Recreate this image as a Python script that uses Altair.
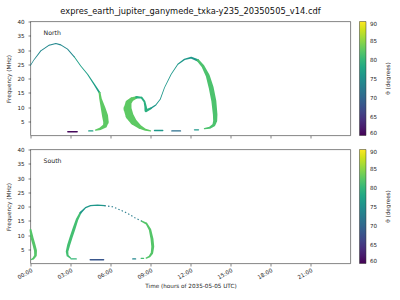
import altair as alt
import pandas as pd

TITLE = "expres_earth_jupiter_ganymede_txka-y235_20350505_v14.cdf"
hour_ticks = [0, 3, 6, 9, 12, 15, 18, 21]
freq_ticks = [5, 10, 15, 20, 25, 30, 35, 40]
theta_ticks = [60, 65, 70, 75, 80, 85, 90]

# (time [h], frequency [MHz], time spread of emission [h])
north_arc_a = [(0.00, 24.6, .06), (0.28, 26.7, .06), (0.77, 29.7, .07), (1.40, 31.7, .08),
               (1.90, 32.3, .08), (2.27, 31.8, .08), (2.78, 30.3, .07), (3.28, 27.6, .07)]
north_arc_b = [(3.28, 27.6, .07), (3.77, 24.4, .07), (4.28, 21.5, .08), (4.78, 17.9, .10),
               (5.18, 15.0, .14)]
north_arc_c = [(5.18, 15.0, .14), (5.25, 12.9, .19), (5.44, 9.7, .34), (5.59, 6.9, .45),
               (5.66, 4.8, .41), (5.59, 3.4, .30), (5.25, 2.4, .19), (4.88, 1.9, .10)]
north_lobe = [(9.00, 1.65, .10), (8.63, 2.0, .15), (8.18, 3.06, .30), (7.73, 4.82, .49),
              (7.43, 6.93, .60), (7.28, 9.39, .60), (7.35, 11.5, .45), (7.58, 12.7, .30),
              (7.95, 13.4, .19)]
north_notch = [(7.95, 13.4, .19), (8.33, 13.3, .14), (8.55, 11.9, .14), (8.63, 10.1, .18),
               (8.66, 8.7, .22), (9.02, 9.5, .14)]
north_rise = [(9.02, 9.5, .11), (9.40, 10.7, .08), (9.73, 12.7, .07), (10.05, 16.8, .06),
              (10.55, 21.5, .06), (11.05, 25.0, .07), (11.55, 26.7, .10), (12.05, 27.3, .14),
              (12.55, 26.4, .18)]
north_fall = [(12.55, 26.4, .18), (12.92, 24.4, .22), (13.30, 20.9, .30), (13.55, 16.8, .37),
              (13.75, 12.1, .37), (13.85, 7.4, .34), (13.85, 5.1, .30), (13.75, 3.7, .22),
              (13.43, 2.7, .15), (13.05, 2.4, .10)]
north_dash_1 = [(2.80, 1.3, .11), (3.50, 1.3, .11)]
north_dash_2 = [(4.37, 1.6, .10), (4.67, 1.6, .10)]
north_dash_3 = [(9.30, 1.75, .10), (9.92, 1.75, .10)]
north_dash_4 = [(10.60, 1.6, .10), (11.25, 1.6, .10)]
north_dash_5 = [(12.30, 2.0, .10), (12.60, 2.0, .10)]

south_edge = [(0.00, 11.8, .15), (0.11, 9.1, .22), (0.26, 6.6, .22), (0.375, 4.5, .22),
              (0.375, 2.8, .19), (0.22, 1.75, .15), (0.07, 1.4, .10)]
south_rise = [(3.00, 1.9, .10), (2.78, 2.8, .15), (2.74, 4.2, .19), (2.85, 6.3, .22),
              (3.04, 9.1, .22), (3.26, 12.2, .22), (3.49, 15.4, .19), (3.75, 17.8, .14)]
south_top = [(3.75, 17.8, .14), (4.13, 19.6, .10), (4.50, 20.3, .09), (5.03, 20.5, .09),
             (5.55, 20.3, .09)]
south_dotted = [(5.55, 20.3, .07), (6.15, 19.9, .07), (6.68, 18.9, .07), (7.28, 17.6, .07),
                (7.88, 15.9, .07), (8.33, 14.9, .07)]
south_fall = [(8.33, 14.9, .10), (8.70, 14.0, .14), (8.96, 11.9, .18), (9.11, 8.7, .22),
              (9.17, 5.9, .22), (9.11, 3.7, .18), (8.93, 2.45, .14), (8.68, 1.9, .10)]
south_dash_1 = [(3.05, 1.6, .10), (3.43, 1.6, .10)]
south_dash_2 = [(4.48, 1.3, .11), (5.48, 1.3, .11)]
south_dash_3 = [(7.67, 1.6, .10), (7.88, 1.6, .10)]
south_dash_4 = [(8.30, 1.8, .10), (8.48, 1.8, .10)]

# segment list: (panel, theta [deg], kind, points)
segments = [
    ("North", 74, "trail", north_arc_a), ("North", 77, "trail", north_arc_b),
    ("North", 82.5, "trail", north_arc_c), ("North", 82.5, "trail", north_lobe),
    ("North", 79, "trail", north_notch), ("North", 76, "trail", north_rise),
    ("North", 81.5, "trail", north_fall), ("North", 60.5, "trail", north_dash_1),
    ("North", 77, "trail", north_dash_2), ("North", 76, "trail", north_dash_3),
    ("North", 71, "trail", north_dash_4), ("North", 76, "trail", north_dash_5),
    ("South", 82, "trail", south_edge), ("South", 81, "trail", south_rise),
    ("South", 76, "trail", south_top), ("South", 72.5, "dotted", south_dotted),
    ("South", 82, "trail", south_fall), ("South", 80, "trail", south_dash_1),
    ("South", 68, "trail", south_dash_2), ("South", 74, "trail", south_dash_3),
    ("South", 81, "trail", south_dash_4),
]

rows = []
for k, (panel, theta, kind, pts) in enumerate(segments):
    for i, (t, f, s) in enumerate(pts):
        rows.append({"panel": panel, "seg": k, "i": i, "t": t, "f": f,
                     "spread": s, "theta": theta, "kind": kind})
df = pd.DataFrame(rows)

FONT = "DejaVu Sans"
W, H = 320, 114


def panel(name, bottom):
    x = alt.X("t:Q", scale=alt.Scale(domain=[0, 24], nice=False),
              axis=alt.Axis(values=hour_ticks, labels=bottom,
                            labelExpr="(datum.value < 10 ? '0' : '') + datum.value + ':00'",
                            labelAngle=-30, labelAlign="right", labelBaseline="top",
                            labelPadding=1.5,
                            title="Time (hours of 2035-05-05 UTC)" if bottom else None,
                            titlePadding=2))
    y = alt.Y("f:Q", scale=alt.Scale(domain=[0, 40], nice=False),
              axis=alt.Axis(values=freq_ticks, title="Frequency (MHz)", titlePadding=5,
                            labelPadding=4))
    color = alt.Color("theta:Q",
                      scale=alt.Scale(scheme="viridis", domain=[60, 90]),
                      legend=alt.Legend(title=None, values=theta_ticks, orient="none",
                                        legendX=329, legendY=0, direction="vertical",
                                        gradientLength=H, gradientThickness=6.5,
                                        gradientStrokeColor="#333", gradientStrokeWidth=0.5,
                                        labelFontSize=5.6, labelFont=FONT, labelColor="#222",
                                        labelOffset=4))
    base = alt.Chart(df[df.panel == name])
    trail = base.transform_filter(alt.datum.kind == "trail").mark_trail().encode(
        x=x, y=y, color=color,
        size=alt.Size("spread:Q", scale=alt.Scale(domain=[0, 1], range=[0, W / 24]), legend=None),
        detail="seg:N", order="i:Q")
    dotted = base.transform_filter(alt.datum.kind == "dotted").mark_line(
        strokeDash=[1.4, 2.2], strokeWidth=1.1).encode(
        x=x, y=y, color=color, detail="seg:N", order="i:Q")
    label = alt.Chart(pd.DataFrame({"label": [name]})).mark_text(
        align="left", baseline="middle", fontSize=6.2, font=FONT, color="#222").encode(
        x=alt.value(13), y=alt.value(11), text="label:N")
    cbar_title = alt.Chart(pd.DataFrame({"label": ["θ (degrees)"]})).mark_text(
        angle=270, align="center", baseline="middle", fontSize=5.7, font=FONT,
        color="#222").encode(x=alt.value(357), y=alt.value(H / 2), text="label:N")
    return alt.layer(trail, dotted, label, cbar_title).properties(width=W, height=H)


chart = alt.vconcat(panel("North", False), panel("South", True), spacing=14,
                    bounds="flush").resolve_scale(color="independent").properties(
    title=alt.Title(TITLE, fontSize=8.3, font=FONT, fontWeight="normal", color="#111",
                    anchor="middle", frame="group", offset=4),
    padding={"left": 5.5, "top": 6.5, "right": 0, "bottom": 0},
).configure_view(stroke="#333", strokeWidth=0.6).configure_axis(
    domain=False, grid=False, tickColor="#333", tickWidth=0.6, tickSize=2.5,
    labelFontSize=5.6, labelFont=FONT, labelColor="#222",
    titleFontSize=5.7, titleFont=FONT, titleFontWeight="normal", titleColor="#222")

chart.save("out.html", embed_options={"renderer": "svg", "actions": False})
